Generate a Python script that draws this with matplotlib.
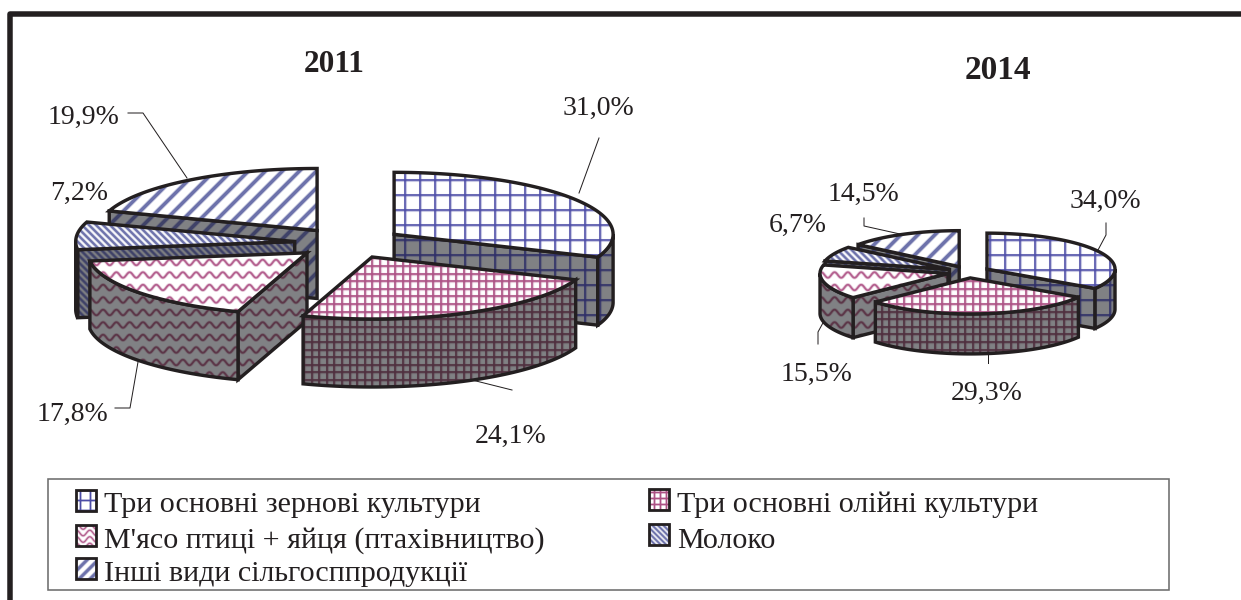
#!/usr/bin/env python3
# coding: utf-8

"""Two exploded pseudo-3D pies, hatched faces, drawn in pixel coordinates."""

import numpy as np
import matplotlib
matplotlib.use("Agg")
import matplotlib.pyplot as plt
from matplotlib.collections import LineCollection
from matplotlib.patches import Polygon, Rectangle

plt.rcParams["font.family"] = ["Liberation Serif", "DejaVu Serif"]

categories = [
    "Три основні зернові культури",
    "Три основні олійні культури",
    "М'ясо птиці + яйця (птахівництво)",
    "Молоко",
    "Інші види сільгосппродукції",
]
values_2011 = [31.0, 24.1, 17.8, 7.2, 19.9]
values_2014 = [34.0, 29.3, 15.5, 6.7, 14.5]

INK = "#231f20"
PX = 0.72  # one pixel in points at 100 dpi
SIDE = "#808184"

# kind, spacing, line width, colour on top face, colour on side face
hatches = [
    ("grid", 15.0, 1.5, "#4c4ca6", "#2f2f68"),
    ("grid", 7.6, 1.6, "#ad5285", "#50303f"),
    ("wave", 12.5, 1.8, "#b4608f", "#5c3648"),
    ("back", 7.0, 2.2, "#6d72ab", "#3f4268"),
    ("fwd", 17.0, 3.4, "#6d72ab", "#3f4268"),
]

fig = plt.figure(figsize=(12.41, 6.0), dpi=100)
ax = fig.add_axes([0, 0, 1, 1])
ax.set_xlim(0, 1241)
ax.set_ylim(600, 0)
ax.axis("off")

z = [1]


def next_z():
    z[0] += 1
    return z[0]


def hatch_lines(kind, sp, x0, x1, y0, y1):
    segs = []
    if kind == "grid":
        for x in np.arange(np.floor(x0 / sp) * sp, x1 + sp, sp):
            segs.append([(x, y0), (x, y1)])
        for y in np.arange(np.floor(y0 / sp) * sp, y1 + sp, sp):
            segs.append([(x0, y), (x1, y)])
    elif kind == "wave":
        xs = np.arange(x0, x1 + 1, 1.0)
        for y in np.arange(np.floor(y0 / sp) * sp, y1 + sp, sp):
            segs.append(np.column_stack([xs, y + 2.8 * np.sin(xs * 2 * np.pi / 13.3)]))
    else:
        h = y1 - y0
        for x in np.arange(np.floor((x0 - h) / sp) * sp, x1 + h + sp, sp):
            if kind == "fwd":
                segs.append([(x, y1), (x + h, y0)])
            else:
                segs.append([(x, y0), (x + h, y1)])
    return segs


def face(pts, style, side=False, fill="white", lw=3.4):
    kind, sp, hlw, col_top, col_side = style
    pts = np.asarray(pts)
    zz = next_z()
    poly = Polygon(pts, closed=True, facecolor=SIDE if side else fill,
                   edgecolor="none", zorder=zz)
    ax.add_patch(poly)
    segs = hatch_lines(kind, sp, pts[:, 0].min() - 2, pts[:, 0].max() + 2,
                       pts[:, 1].min() - 2, pts[:, 1].max() + 2)
    col = col_side if side else col_top
    # soft halo, the original hatching is blurred by scanning
    halo = LineCollection(segs, colors=col, linewidths=(hlw + 1.6) * PX,
                          alpha=0.3, zorder=zz)
    lc = LineCollection(segs, colors=col, linewidths=hlw * PX, zorder=zz)
    for c in (halo, lc):
        ax.add_collection(c)
        c.set_clip_path(poly)
    ax.add_patch(Polygon(pts, closed=True, facecolor="none", edgecolor=INK,
                         linewidth=lw * PX, joinstyle="miter", zorder=zz))


def rim(cx, cy, rx, ry, deg):
    t = np.radians(deg)
    return np.column_stack([cx + rx * np.sin(t), cy - ry * np.cos(t)])


def draw_pie(values, cx, cy, rx, ry, depth, explode, order):
    edges = np.concatenate([[0], np.cumsum(values)]) / np.sum(values) * 360
    for i in order:
        a, b = edges[i], edges[i + 1]
        mid = np.radians((a + b) / 2)
        ax0 = cx + explode * rx * np.sin(mid)
        ay0 = cy - explode * ry * np.cos(mid)
        apex = np.array([[ax0, ay0]])
        down = np.array([0, depth])
        style = hatches[i]
        # radial faces looking towards the viewer
        if np.sin(np.radians(a)) < 0:
            p = rim(ax0, ay0, rx, ry, [a])
            face(np.vstack([apex, p, p + down, apex + down]), style, side=True)
        if np.sin(np.radians(b)) > 0:
            p = rim(ax0, ay0, rx, ry, [b])
            face(np.vstack([apex, p, p + down, apex + down]), style, side=True)
        # outer wall, only the front half of the ellipse shows
        lo, hi = max(a, 90), min(b, 270)
        if lo < hi:
            arc = rim(ax0, ay0, rx, ry, np.linspace(lo, hi, 60))
            face(np.vstack([arc, arc[::-1] + down]), style, side=True)
        # top
        arc = rim(ax0, ay0, rx, ry, np.linspace(a, b, 120))
        face(np.vstack([apex, arc]), style)


# outer frame, open on the right
ax.plot([1241, 9.5, 9.5], [13.5, 13.5, 600], color=INK, lw=5.5 * PX,
        solid_joinstyle="round", zorder=1)

draw_pie(values_2011, 349, 243, 219, 62, 68, 0.249, [0, 4, 3, 2, 1])
draw_pie(values_2014, 968.5, 272, 128, 36, 40, 0.165, [0, 4, 3, 2, 1])

ax.text(334.5, 72, "2011", fontsize=22.5, fontweight="bold", color=INK,
        ha="center", va="baseline")
ax.text(998, 79, "2014", fontsize=24, fontweight="bold", color=INK,
        ha="center", va="baseline")

# percent labels, same order as the values
fmt = [f"{v:.1f}%".replace(".", ",") for v in values_2011 + values_2014]
label_pos = [
    (598, 115), (511, 443), (72, 421), (79, 200), (84, 124),
    (1105, 208), (987, 400), (817, 381), (798, 232), (863, 201),
]
for s, (x, y) in zip(fmt, label_pos):
    ax.text(x, y, s, fontsize=20, color=INK, ha="center", va="baseline")

leaders = [
    [(599, 138), (579, 193)],
    [(472, 380), (512, 390)],
    [(115, 408), (130, 408), (138, 362)],
    [(128, 113), (143, 113), (187, 178)],
    [(1106, 223), (1106, 235), (1098, 250)],
    [(988, 354), (988, 363)],
    [(818, 344), (818, 332), (824, 321)],
    [(864, 218), (864, 226), (900, 234)],
]
for line in leaders:
    xs, ys = zip(*line)
    ax.plot(xs, ys, color=INK, lw=1.0 * PX, zorder=0.5)

# legend
ax.add_patch(Rectangle((48, 479), 1121, 110.5, facecolor="white", edgecolor="#6e6e6e",
                       linewidth=1.6 * PX, zorder=0))
legend_pos = [(76, 490), (649, 489), (76, 525), (649, 524), (76, 558)]
legend_base = [512, 512, 547.5, 547.5, 581]
legend_hatches = [
    ("grid", 10.0, 1.3, "#4c4ca6", "#2f2f68"),
    ("grid", 6.0, 1.3, "#ad5285", "#50303f"),
    ("wave", 6.5, 1.3, "#b4608f", "#5c3648"),
    ("back", 5.5, 1.8, "#6d72ab", "#3f4268"),
    ("fwd", 11.0, 3.0, "#6d72ab", "#3f4268"),
]
for name, (x, y), base, st in zip(categories, legend_pos, legend_base, legend_hatches):
    face([(x, y), (x + 20, y), (x + 20, y + 21), (x, y + 21)], st, lw=2.8)
    ax.text(x + 28, base, name, fontsize=21.6, color=INK, ha="left", va="baseline",
            zorder=z[0] + 1)

fig.savefig("out.png", dpi=100)
